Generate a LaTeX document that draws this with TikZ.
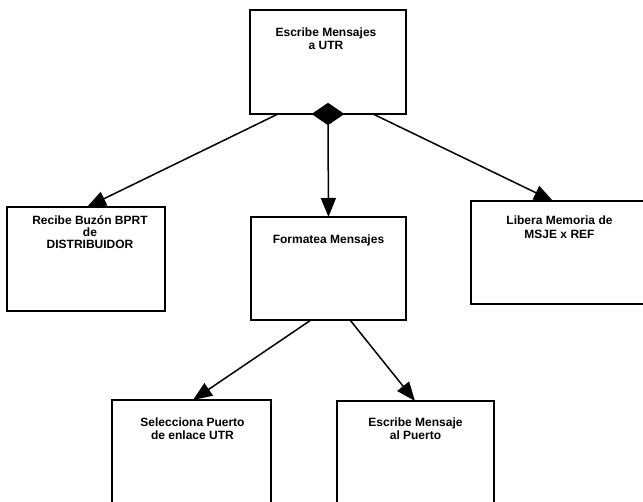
\documentclass[tikz,border=0pt]{standalone}
\usepackage{fontspec}
\setmainfont{Liberation Sans}
\usetikzlibrary{arrows.meta,shapes.geometric,positioning}
\begin{document}
\begin{tikzpicture}[x=1pt,y=-1pt,
  box/.style={draw,line width=1.6pt,rectangle,anchor=north west,inner sep=0pt,outer sep=0pt},
  lbl/.style={align=center,inner sep=0pt,font=\fontsize{12}{13}\selectfont\bfseries},
  link/.style={line width=1.5pt,-{Triangle[length=19pt,width=15pt]}}]
  \useasboundingbox (0,0) rectangle (643,502);
  \clip (0,0) rectangle (643,502);

  % process boxes
  \node[box,minimum width=156pt,minimum height=104pt] (top) at (250,10) {};
  \node[box,minimum width=158pt,minimum height=104pt] (recibe) at (7,207) {};
  \node[box,minimum width=155pt,minimum height=103pt] (formatea) at (251,217) {};
  \node[box,minimum width=185pt,minimum height=103pt] (libera) at (471,201) {};
  \node[box,minimum width=159pt,minimum height=125pt] (selecciona) at (112,400) {};
  \node[box,minimum width=157pt,minimum height=125pt] (puerto) at (337,401) {};

  % box captions, hung from the top edge of each box
  \node[lbl,below=18pt of top.north,xshift=-2pt] (topText) {Escribe Mensajes\\a UTR};
  \node[lbl,below=9pt of recibe.north,xshift=4pt,font=\fontsize{12}{12}\selectfont\bfseries] (recibeText) {Recibe Buzón BPRT\\de\\DISTRIBUIDOR};
  \node[lbl,below=18pt of formatea.north] (formateaText) {Formatea Mensajes};
  \node[lbl,below=15pt of libera.north,xshift=-4pt,font=\fontsize{12}{14}\selectfont\bfseries] (liberaText) {Libera Memoria de\\MSJE x REF};
  \node[lbl,below=18pt of selecciona.north,xshift=1pt] (seleccionaText) {Selecciona Puerto\\de enlace UTR};
  \node[lbl,below=17pt of puerto.north] (puertoText) {Escribe Mensaje\\al Puerto};

  % selector diamond under the top box
  \node[diamond,fill=black,draw=black,inner sep=0pt,minimum width=32pt,minimum height=22pt] (dia) at (328,114) {};

  % connector ends
  \coordinate (tl) at (278,114);
  \coordinate (tr) at (373,114);
  \coordinate (recibeIn) at (87,207);
  \coordinate (liberaIn) at (553,201);
  \coordinate (fl) at (311,320);
  \coordinate (fr) at (350,320);
  \coordinate (seleccionaIn) at (193,400);
  \coordinate (puertoIn) at (415,401);

  % connectors
  \draw[link] (tl) -- (recibeIn);
  \draw[link] (dia.south) -- (formatea.north);
  \draw[link] (tr) -- (liberaIn);
  \draw[link] (fl) -- (seleccionaIn);
  \draw[link] (fr) -- (puertoIn);
\end{tikzpicture}
\end{document}
